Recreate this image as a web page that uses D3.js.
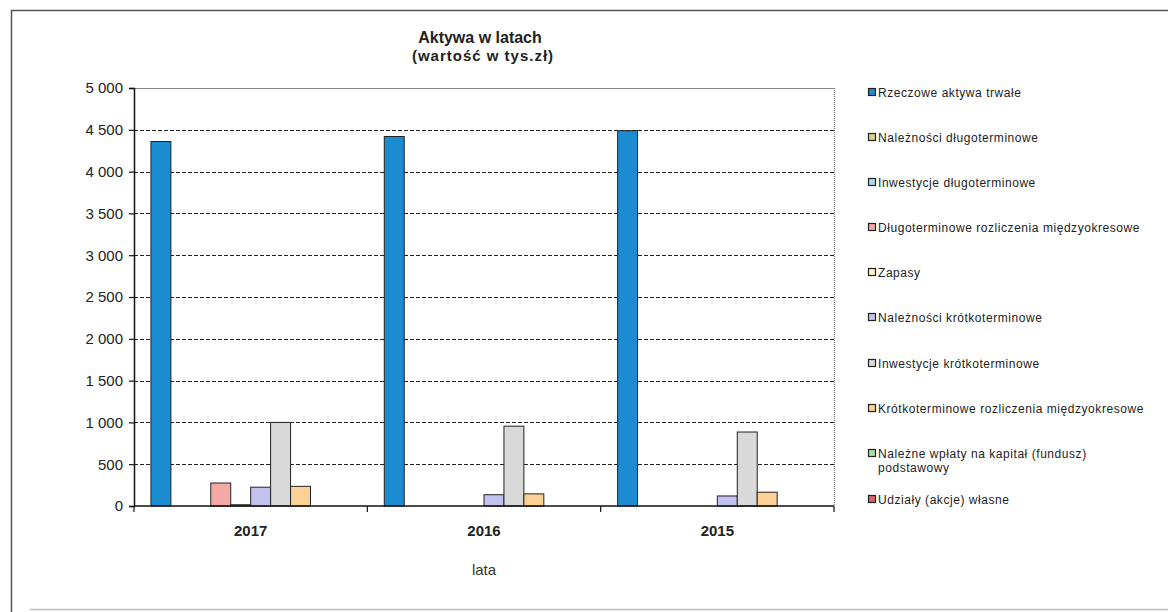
<!DOCTYPE html>
<html>
<head>
<meta charset="utf-8">
<script src="https://cdn.jsdelivr.net/npm/d3@7"></script>
<style>
    body { margin: 0; padding: 0; background: #fff; }
    svg { display: block; font-family: 'Liberation Sans', Arial, sans-serif; }
</style>
</head>
<body>
<div id="main"></div>
<script>
const years = ['2017', '2016', '2015'];
const seriesNames = [
    'Rzeczowe aktywa trwałe',
    'Należności długoterminowe',
    'Inwestycje długoterminowe',
    'Długoterminowe rozliczenia międzyokresowe',
    'Zapasy',
    'Należności krótkoterminowe',
    'Inwestycje krótkoterminowe',
    'Krótkoterminowe rozliczenia międzyokresowe',
    'Należne wpłaty na kapitał (fundusz) podstawowy',
    'Udziały (akcje) własne'
];
const seriesColours = ['#1b8bd2', '#d9d28a', '#a9d9ef', '#f4a9a6', '#f7f6c4', '#c3c2ef', '#d9d9da', '#fbd196', '#a9dfa2', '#e0606e'];
// one array per series, values for 2017, 2016, 2015
const rzeczowe = [4360, 4420, 4490];
const naleznosciDlugo = [0, 0, 0];
const inwestycjeDlugo = [0, 0, 0];
const rozliczeniaDlugo = [275, 0, 0];
const zapasy = [15, 0, 0];
const naleznosciKrotko = [225, 135, 120];
const inwestycjeKrotko = [1000, 955, 885];
const rozliczeniaKrotko = [235, 145, 165];
const naleznеWplaty = [0, 0, 0];
const udzialy = [0, 0, 0];
const seriesValues = [rzeczowe, naleznosciDlugo, inwestycjeDlugo, rozliczeniaDlugo, zapasy, naleznosciKrotko, inwestycjeKrotko, rozliczeniaKrotko, naleznеWplaty, udzialy];
const yTicks = [0, 500, 1000, 1500, 2000, 2500, 3000, 3500, 4000, 4500, 5000];

const WIDTH = 1168;
const HEIGHT = 612;
const PLOTLEFT = 134;
const PLOTRIGHT = 834;
const PLOTTOP = 88;
const PLOTBOTTOM = 506;

const svg = d3.select('#main').append('svg').attr('width', WIDTH).attr('height', HEIGHT);

// scanned page frame
svg.append('path')
    .attr('d', `M11.5,612 V10.5 H${WIDTH}`)
    .attr('fill', 'none').attr('stroke', '#555').attr('stroke-width', 1.5);
svg.append('line')
    .attr('x1', 30).attr('x2', WIDTH).attr('y1', 609.5).attr('y2', 609.5)
    .attr('stroke', '#bbb').attr('stroke-width', 1.5);

const scaleX = d3.scaleBand().domain(years).range([PLOTLEFT, PLOTRIGHT]).padding(0);
const scaleSeries = d3.scaleBand().domain(d3.range(seriesNames.length)).range([0, scaleX.bandwidth()]).paddingInner(0).paddingOuter(0.85);
const scaleY = d3.scaleLinear().domain([0, 5000]).range([PLOTBOTTOM, PLOTTOP]);
const fmt = (v) => d3.format(',')(v).replace(',', ' ');

// grid
svg.append('g').selectAll('line').data(yTicks.filter((t) => t > 0)).enter().append('line')
    .attr('x1', PLOTLEFT).attr('x2', PLOTRIGHT)
    .attr('y1', (d) => Math.round(scaleY(d)) + 0.5).attr('y2', (d) => Math.round(scaleY(d)) + 0.5)
    .attr('stroke', (d) => d === 5000 ? '#888' : '#222')
    .attr('stroke-width', 1.2)
    .attr('stroke-dasharray', (d) => d === 5000 ? null : '4,2');
svg.append('line')
    .attr('x1', PLOTRIGHT + 0.5).attr('x2', PLOTRIGHT + 0.5).attr('y1', PLOTTOP).attr('y2', PLOTBOTTOM)
    .attr('stroke', '#777').attr('stroke-width', 1.2).attr('stroke-dasharray', '1,1');

// bars
const groups = svg.append('g').selectAll('g').data(years).enter().append('g')
    .attr('transform', (d) => `translate(${scaleX(d)},0)`);
groups.selectAll('rect')
    .data((d, i) => seriesValues.map((vals, s) => ({s: s, v: vals[i]})).filter((e) => e.v > 0))
    .enter().append('rect')
    .attr('x', (d) => scaleSeries(d.s))
    .attr('width', scaleSeries.bandwidth())
    .attr('y', (d) => scaleY(d.v))
    .attr('height', (d) => PLOTBOTTOM - scaleY(d.v))
    .attr('fill', (d) => seriesColours[d.s])
    .attr('stroke', '#222').attr('stroke-width', 1);

// axes
const axisY = d3.axisLeft(scaleY).tickValues(yTicks).tickFormat(fmt).tickSize(5).tickPadding(6);
const gy = svg.append('g').attr('transform', `translate(${PLOTLEFT},0)`).call(axisY);
gy.select('.domain').attr('stroke', '#111').attr('stroke-width', 1.5);
gy.selectAll('line').attr('stroke', '#111').attr('stroke-width', 1.2);
gy.selectAll('text').attr('font-size', 15).attr('fill', '#222').attr('font-family', 'Liberation Sans, Arial, sans-serif');

const gx = svg.append('g').attr('transform', `translate(0,${PLOTBOTTOM})`);
gx.append('line').attr('x1', PLOTLEFT).attr('x2', PLOTRIGHT).attr('y1', 0).attr('y2', 0).attr('stroke', '#111').attr('stroke-width', 1.5);
gx.selectAll('.tick').data(years.map((y) => scaleX(y)).concat([PLOTRIGHT])).enter().append('line')
    .attr('class', 'tick')
    .attr('x1', (d) => d).attr('x2', (d) => d).attr('y1', 0).attr('y2', 6)
    .attr('stroke', '#111').attr('stroke-width', 1.2);
gx.selectAll('text').data(years).enter().append('text')
    .attr('x', (d) => scaleX(d) + scaleX.bandwidth() / 2)
    .attr('y', 30)
    .attr('text-anchor', 'middle')
    .attr('font-size', 15).attr('font-weight', 'bold').attr('fill', '#222')
    .text((d) => d);

svg.append('text').attr('x', 484).attr('y', 575).attr('text-anchor', 'middle')
    .attr('font-size', 15).attr('fill', '#333').text('lata');

// title
svg.append('text').attr('x', 480).attr('y', 43).attr('text-anchor', 'middle')
    .attr('font-size', 16).attr('font-weight', 'bold').attr('fill', '#222').text('Aktywa w latach');
svg.append('text').attr('x', 483).attr('y', 61).attr('text-anchor', 'middle')
    .attr('font-size', 15).attr('font-weight', 'bold').attr('fill', '#222')
    .attr('letter-spacing', 1).text('(wartość w tys.zł)');

// legend
const legendRows = [93, 138, 183, 228, 273, 318, 364, 409, 454, 500];
const legend = svg.append('g').selectAll('g').data(seriesNames).enter().append('g')
    .attr('transform', (d, i) => `translate(868,${legendRows[i]})`);
legend.append('rect')
    .attr('x', 0.5).attr('y', -4.5).attr('width', 7).attr('height', 7)
    .attr('fill', (d, i) => seriesColours[i]).attr('stroke', '#222').attr('stroke-width', 1.2);
legend.each(function(d) {
    const g = d3.select(this);
    const lines = d.startsWith('Należne wpłaty') ? ['Należne wpłaty na kapitał (fundusz)', 'podstawowy'] : [d];
    g.selectAll('text').data(lines).enter().append('text')
        .attr('x', 10).attr('y', (l, j) => 4 + j * 14)
        .attr('font-size', 12).attr('fill', '#222')
        .attr('letter-spacing', 0.55)
        .text((l) => l);
});
</script>
</body>
</html>
